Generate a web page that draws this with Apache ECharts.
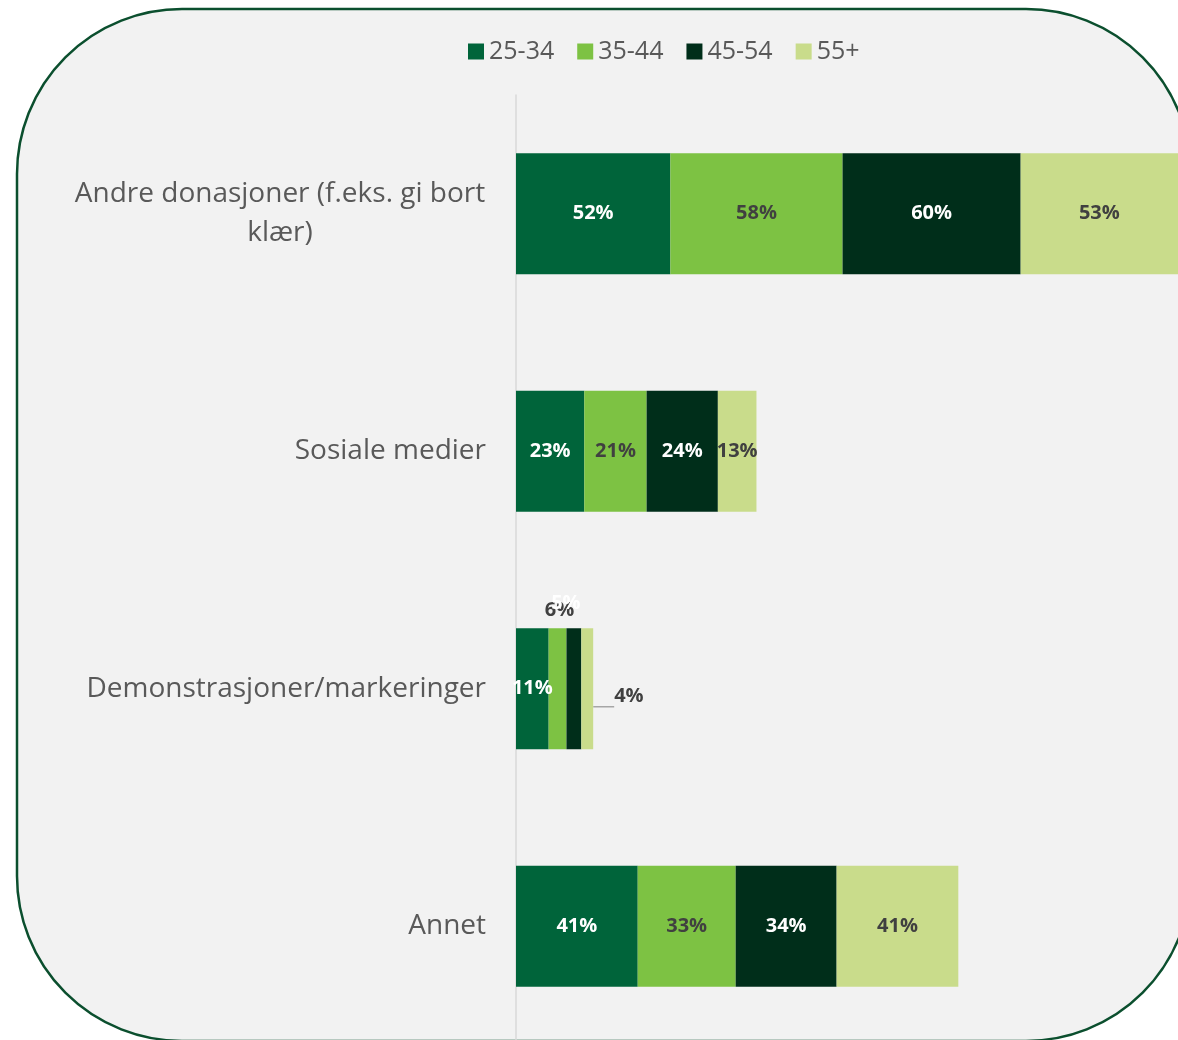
<!DOCTYPE html>
<html>
<head>
<meta charset="utf-8">
<script src="https://cdn.jsdelivr.net/npm/echarts@6/dist/echarts.min.js"></script>
<style>
  html, body { margin: 0; padding: 0; background: #ffffff; overflow: hidden; }
  #canvas { width: 1178px; height: 1050px; }
</style>
</head>
<body>
<div id="canvas"></div>
<script>
// categories (top to bottom)
var categories = [
	'Andre donasjoner (f.eks. gi bort klær)',
	'Sosiale medier',
	'Demonstrasjoner/markeringer',
	'Annet'
];
var seriesNames = ['25-34', '35-44', '45-54', '55+'];
// share per age group, in percent
var age2534 = [52, 23, 11, 41];
var age3544 = [58, 21, 6, 33];
var age4554 = [60, 24, 5, 34];
var age55 = [53, 13, 4, 41];

var colors = ['#00643A', '#7DC243', '#002E1A', '#C9DC8B'];
var labelColors = ['#ffffff', '#404040', '#ffffff', '#404040'];

// labels that Excel pushed outside the thin bars (row 3)
var outsideLabels = {
	1: { position: 'top', distance: 8, offset: [2, 0] },
	2: { position: 'top', distance: 15, offset: [-8, 0] },
	3: { position: 'right', distance: 21, offset: [0, 8] }
};

var myChart = echarts.init(document.getElementById('canvas'));

var allValues = [age2534, age3544, age4554, age55];
var series = allValues.map(function(values, s){
	return {
		name: seriesNames[s],
		type: 'bar',
		stack: 'total',
		barWidth: 121,
		itemStyle: { color: colors[s] },
		label: {
			show: true,
			position: 'inside',
			formatter: '{c}%',
			color: labelColors[s],
			fontFamily: 'Open Sans',
			fontWeight: 'bold',
			fontSize: 20
		},
		data: values.map(function(v, i){
			if (i === 2 && outsideLabels[s]) {
				var item = { value: v, label: outsideLabels[s] };
				if (s === 3) {
					item.labelLine = { show: true, lineStyle: { color: '#a6a6a6', width: 1.5 } };
				}
				return item;
			}
			return v;
		})
	};
});

var option = {
	backgroundColor: '#ffffff',
	animation: false,
	graphic: [{
		type: 'rect',
		z: -10,
		shape: { x: 17, y: 9, width: 1174, height: 1032, r: 165 },
		style: { fill: '#f2f2f2', stroke: '#0B4F2E', lineWidth: 2.5 }
	}],
	legend: {
		left: 463,
		top: 34,
		itemWidth: 16,
		itemHeight: 16,
		itemGap: 23,
		icon: 'rect',
		textStyle: { color: '#595959', fontSize: 25, fontFamily: 'Open Sans' },
		data: seriesNames
	},
	grid: { left: 516, right: 0, top: 95, height: 950, containLabel: false },
	xAxis: {
		type: 'value',
		min: 0,
		max: 223,
		show: false
	},
	yAxis: {
		type: 'category',
		inverse: true,
		data: categories,
		axisTick: { show: false },
		axisLine: { lineStyle: { color: '#d9d9d9', width: 1.5 } },
		axisLabel: {
			margin: 30,
			color: '#595959',
			fontFamily: 'Open Sans',
			fontSize: 28,
			lineHeight: 39,
			formatter: function(value){
				if (value.indexOf('Andre') === 0) {
					return '{c|Andre donasjoner (f.eks. gi bort}\n{c|klær)}';
				}
				return value;
			},
			rich: {
				c: { width: 412, align: 'center', fontSize: 28, lineHeight: 39, color: '#595959', fontFamily: 'Open Sans' }
			}
		}
	},
	series: series
};

myChart.setOption(option);
</script>
</body>
</html>
